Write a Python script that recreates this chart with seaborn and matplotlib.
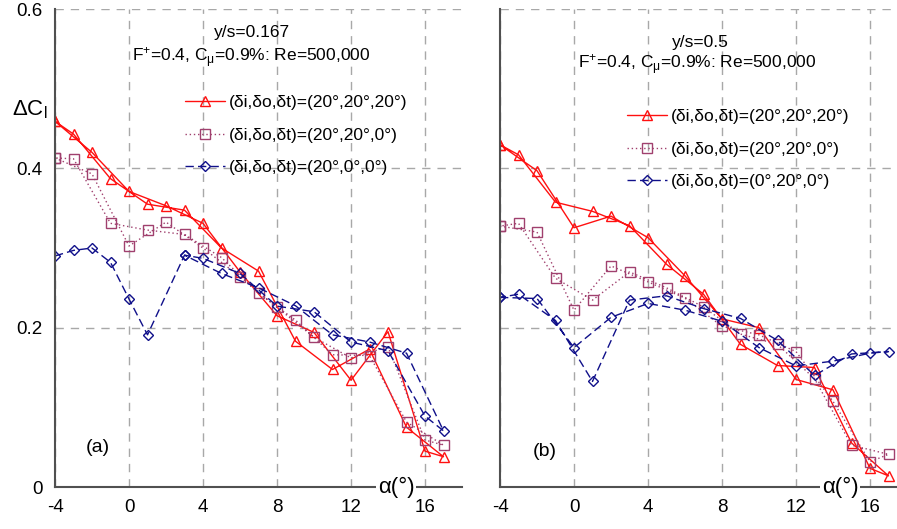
import matplotlib
matplotlib.use('Agg')
import matplotlib.pyplot as plt
import seaborn as sns
import pandas as pd
import numpy as np

sns.set_style('white')
plt.rcParams['font.family'] = ['Liberation Sans', 'DejaVu Sans']
plt.rcParams['mathtext.fontset'] = 'custom'
plt.rcParams['mathtext.rm'] = 'Liberation Sans'
plt.rcParams['mathtext.it'] = 'Liberation Sans:italic'
plt.rcParams['text.color'] = 'black'
plt.rcParams['xtick.color'] = 'black'
plt.rcParams['ytick.color'] = 'black'

# ---------------- data ----------------
ALPHA = list(range(-4, 18))  # -4 .. 17

# panel (a) y/s = 0.167
a_red = [0.459, 0.443, 0.420, 0.387, 0.371, 0.355, 0.353, 0.3475, 0.331, 0.300, 0.270,
         0.271, 0.215, 0.183, 0.194, 0.1475, 0.134, 0.173, 0.195, 0.075, 0.045, 0.038]
a_sq = [0.413, 0.412, 0.393, 0.331, 0.3025, 0.3225, 0.3325, 0.317, 0.300, 0.288, 0.264,
        0.243, 0.2255, 0.2095, 0.188, 0.166, 0.162, 0.165, 0.176, 0.0816, 0.059, 0.0525]
a_blue = [0.290, 0.297, 0.300, 0.282, 0.236, 0.191, np.nan, 0.291, 0.287, 0.268, 0.268,
          0.250, 0.227, 0.2275, 0.220, 0.191, 0.182, 0.182, 0.171, 0.168, 0.089, 0.0705]

# panel (b) y/s = 0.5
b_red = [0.4296, 0.417, 0.397, 0.3575, 0.3254, 0.346, 0.340, 0.328, 0.313, 0.2796, 0.265,
         0.242, 0.211, 0.179, 0.200, 0.1525, 0.135, 0.150, 0.122, 0.0554, 0.0234, 0.014]
b_sq = [0.3275, 0.331, 0.320, 0.262, 0.222, 0.2346, 0.2775, 0.270, 0.2575, 0.250, 0.237,
        0.226, 0.2017, 0.192, 0.191, 0.179, 0.170, 0.136, 0.1075, 0.0525, 0.0316, 0.041]
b_blue = [0.238, 0.242, 0.2366, 0.209, 0.175, 0.1325, 0.213, 0.2346, 0.2304, 0.240, 0.222,
          0.224, 0.208, 0.2116, 0.175, 0.184, 0.152, 0.140, 0.158, 0.167, 0.168, 0.170]

# order in which the hysteresis loops were traced (alpha values)
PATH_LOOP = [-4, -2, 0, 2, 4, 6, 8, 10, 12, 14, 16, 17, 15, 13, 11, 9, 7, 5, 3, 1, -1, -3, -4]
PATH_A_BLUE = [-4, -3, -2, -1, 0, 1, 3, 5, 7, 9, 11, 13, 15, 17, 16, 14, 12, 10, 8, 6, 4, 3]

LEG_A = ['(δi,δo,δt)=(20°,20°,20°)', '(δi,δo,δt)=(20°,20°,0°)', '(δi,δo,δt)=(20°,0°,0°)']
LEG_B = ['(δi,δo,δt)=(20°,20°,20°)', '(δi,δo,δt)=(20°,20°,0°)', '(δi,δo,δt)=(0°,20°,0°)']
XTICKS = [-4, 0, 4, 8, 12, 16]
YTICKS = [0, 0.2, 0.4, 0.6]
YTICKLABELS = ['0', '0.2', '0.4', '0.6']

RED = '#ff1010'
MAUVE = '#a0406e'
NAVY = '#10108a'
W, H = 897, 529

fig = plt.figure(figsize=(W / 100, H / 100), dpi=100)
axA = fig.add_axes([55 / W, 42 / H, 407 / W, 478 / H])
axB = fig.add_axes([500 / W, 42 / H, 397 / W, 478 / H])


def draw(ax, vals, path, color, marker, ls, ms, label):
    s = pd.Series(vals, index=ALPHA)
    d = pd.DataFrame({'alpha': path, 'dcl': s.loc[path].values})
    sns.lineplot(data=d, x='alpha', y='dcl', sort=False, estimator=None, ax=ax,
                 color=color, marker=marker, linestyle=ls, lw=1.0, ms=ms,
                 mfc='none', mec=color, mew=1.0, label=label, legend=False)


for ax, red, sq, blue, bpath, leg, xmax in [
        (axA, a_red, a_sq, a_blue, PATH_A_BLUE, LEG_A, 18.0),
        (axB, b_red, b_sq, b_blue, PATH_LOOP, LEG_B, -4 + 397 / 18.5)]:
    draw(ax, red, PATH_LOOP, RED, '^', '-', 7, leg[0])
    draw(ax, sq, PATH_LOOP, MAUVE, 's', (0, (1, 2)), 6.5, leg[1])
    draw(ax, blue, bpath, NAVY, 'D', (0, (6, 3)), 5, leg[2])
    ax.set_xlim(-4, xmax)
    ax.set_ylim(0, 0.6)
    ax.set_xticks(XTICKS)
    ax.set_xticklabels([str(t) for t in XTICKS])
    ax.set_yticks(YTICKS)
    ax.grid(True, color='#a8a8a8', linestyle=(0, (6, 5)), lw=1.0)
    ax.set_axisbelow(True)
    for sp in ['top', 'right']:
        ax.spines[sp].set_visible(False)
    for sp in ['left', 'bottom']:
        ax.spines[sp].set_color('#505050')
        ax.spines[sp].set_linewidth(1.5)
    ax.tick_params(axis='x', direction='in', length=5, width=1, color='#505050',
                   labelsize=13.5, pad=9, labelcolor='black')
    ax.tick_params(axis='y', direction='out', length=3, width=1, color='#505050',
                   labelsize=13.5, pad=6, labelcolor='black')
    ax.set_xlabel('')
    ax.set_ylabel('')

axA.set_yticklabels(YTICKLABELS)
axB.set_yticklabels([])

# legends
for ax, x0, yc in [(axA, 185, 135), (axB, 627, 149)]:
    lg = ax.legend(loc='center left', bbox_to_anchor=(x0 / W, 1 - yc / H),
                   bbox_transform=fig.transFigure, frameon=False, numpoints=1,
                   fontsize=12.5, handlelength=2.3, handletextpad=0.25,
                   labelspacing=1.0, borderpad=0, borderaxespad=0)
    for t in lg.get_texts():
        t.set_color('black')

# annotations
fig.text(252 / W, 1 - 33 / H, 'y/s=0.167', ha='center', va='center', fontsize=12.5)
fig.text(251 / W, 1 - 58 / H, r'F$^{+}$=0.4, C$_{\mathrm{μ}}$=0.9%: Re=500,000',
         ha='center', va='center', fontsize=12.5)
fig.text(700 / W, 1 - 42 / H, 'y/s=0.5', ha='center', va='center', fontsize=12.5)
fig.text(697 / W, 1 - 65 / H, r'F$^{+}$=0.4, C$_{\mathrm{μ}}$=0.9%: Re=500,000',
         ha='center', va='center', fontsize=12.5)
fig.text(30 / W, 1 - 110 / H, r'ΔC$_{\mathrm{l}}$', ha='center', va='center', fontsize=16)
fig.text(98 / W, 1 - 447 / H, '(a)', ha='center', va='center', fontsize=14)
fig.text(545 / W, 1 - 452 / H, '(b)', ha='center', va='center', fontsize=14)
for xc in [396, 840]:
    fig.text(xc / W, 1 - 487 / H, 'α(°)', ha='center', va='center', fontsize=16,
             bbox=dict(facecolor='white', edgecolor='none', pad=1))

fig.savefig('out.png', dpi=100)
